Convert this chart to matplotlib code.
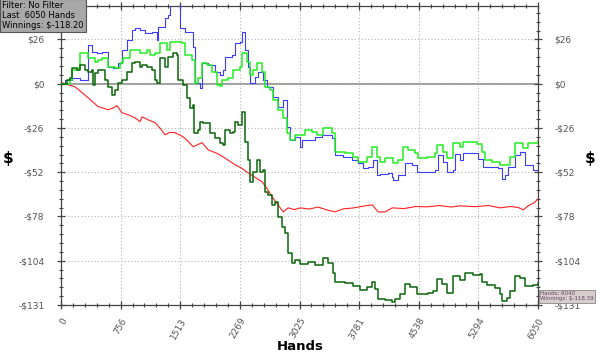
import numpy as np
import matplotlib
matplotlib.use('Agg')
import matplotlib.pyplot as plt
from matplotlib.ticker import AutoMinorLocator

# winnings by hand count
azul_x = [0, 51, 140, 241, 343, 393, 457, 520, 596, 660, 723, 774, 838, 901, 939, 1003, 1066, 1155,
          1218, 1231, 1320, 1358, 1383, 1472, 1510, 1574, 1675, 1700, 1764, 1789, 1865, 1954, 2018,
          2056, 2081, 2170, 2208, 2272, 2297, 2335, 2373, 2398, 2462, 2500, 2563, 2614, 2690, 2754,
          2817, 2868, 2906, 2970, 3033, 3058, 3134, 3223, 3312, 3439, 3477, 3579, 3693, 3769, 3832,
          3896, 3959, 4010, 4048, 4150, 4200, 4213, 4277, 4365, 4454, 4518, 4581, 4746, 4784, 4848,
          4898, 4974, 5000, 5063, 5101, 5254, 5292, 5355, 5419, 5546, 5596, 5634, 5672, 5761, 5825,
          5888, 5990, 6050]
azul_y = [0, 2.4, 3.6, 2.4, 23.1, 19.0, 18.4, 19.0, 10.1, 9.5, 12.4, 20.2, 26.1, 32.0, 33.2, 32.0, 30.2, 30.8,
          26.1, 33.8, 39.1, 40.9, 46.8, 46.8, 33.2, 30.8, 21.9, 0.6, -2.4, 12.4, 11.3, 7.1, 5.3,
          8.3, 16.0, 17.2, 24.3, 24.9, 30.8, 20.2, 10.1, 0.6, 4.2, 7.1, 2.4, -1.8, -7.7, -13.6,
          -9.5, -25.5, -33.2, -31.4, -37.3, -33.2, -33.2, -31.4, -30.2, -32.0, -42.1, -43.3, -45.1, -46.8, -49.8,
          -49.2, -45.1, -53.9, -53.4, -52.8, -55.1, -56.9, -53.9, -46.8, -48.0, -52.2, -52.2, -51.0, -42.1, -46.2,
          -52.2, -51.0, -41.5, -45.1, -40.9, -40.9, -44.5, -49.2, -49.2, -49.8, -56.3, -53.9, -49.2, -42.1, -40.3,
          -48.0, -51.0, -51.6]

verde_x = [0, 114, 140, 216, 241, 343, 431, 470, 520, 596, 685, 749, 787, 876, 1003, 1028, 1091, 1129,
           1193, 1256, 1345, 1383, 1472, 1535, 1574, 1662, 1700, 1739, 1789, 1853, 1916, 1980, 2018,
           2043, 2119, 2183, 2272, 2297, 2360, 2398, 2436, 2487, 2551, 2589, 2652, 2690, 2754, 2817,
           2868, 2906, 2970, 3033, 3096, 3185, 3249, 3325, 3439, 3477, 3604, 3705, 3769, 3883, 3947,
           4010, 4048, 4112, 4213, 4277, 4340, 4403, 4492, 4530, 4645, 4746, 4772, 4848, 4898, 4974,
           5063, 5101, 5190, 5279, 5342, 5381, 5469, 5571, 5634, 5698, 5761, 5825, 5863, 5926, 6050]
verde_y = [0, 2.4, 8.3, 9.5, 18.4, 15.4, 13.0, 14.2, 15.4, 10.1, 9.5, 12.4, 15.4, 20.2, 18.4, 18.4, 20.2, 17.2,
           18.4, 24.3, 20.2, 24.9, 24.9, 24.3, 17.2, 14.2, 0.6, 3.6, 12.4, 11.3, 7.1, -0.6, -1.2,
           2.4, 3.6, 8.3, 10.1, 18.4, 13.0, 5.3, 8.3, 12.4, 7.1, -1.8, -3.6, -9.5, -15.4, -20.2,
           -29.0, -33.2, -30.2, -30.2, -27.3, -28.5, -30.2, -26.1, -29.0, -40.3, -40.9, -43.3, -46.2, -43.3, -37.3,
           -43.3, -46.2, -43.9, -46.8, -45.1, -37.3, -39.1, -40.9, -43.9, -43.3, -40.9, -36.2, -40.3, -43.9, -35.0,
           -37.3, -34.4, -34.4, -35.6, -40.3, -45.1, -46.2, -48.0, -48.0, -43.3, -35.0, -35.0, -37.9, -35.0, -33.8]

oscuro_x = [0, 76, 114, 140, 203, 241, 305, 343, 393, 406, 431, 470, 520, 558, 596, 647, 685, 723, 774,
            838, 901, 939, 1003, 1028, 1091, 1155, 1193, 1218, 1256, 1320, 1358, 1421, 1472, 1485, 1548,
            1599, 1637, 1675, 1688, 1739, 1764, 1802, 1891, 1954, 2018, 2056, 2081, 2145, 2183, 2208,
            2246, 2297, 2335, 2373, 2398, 2436, 2487, 2525, 2563, 2589, 2627, 2678, 2716, 2754, 2804,
            2843, 2881, 2932, 2970, 3033, 3134, 3223, 3325, 3388, 3452, 3477, 3604, 3705, 3794, 3883,
            3947, 3985, 4023, 4112, 4200, 4238, 4302, 4365, 4429, 4518, 4581, 4657, 4721, 4772, 4835,
            4898, 4974, 5063, 5127, 5228, 5317, 5342, 5406, 5507, 5571, 5596, 5660, 5698, 5761, 5825,
            5888, 5990, 6050]
oscuro_y = [0, 2.4, 3.6, 9.5, 8.3, 11.3, 8.3, 7.1, 8.3, -0.6, 6.5, 8.3, 8.0, 2.4, -1.8, -6.5, -3.6, 0.6, 2.4,
            7.1, 12.4, 13.0, 10.1, 11.3, 10.1, 8.3, 2.4, 0.6, 15.4, 10.1, 16.0, 18.4, 17.2, 2.4, -0.6,
            -8.3, -14.2, -12.4, -29.0, -27.3, -22.5, -23.1, -29.0, -32.0, -34.9, -36.2, -27.3, -29.0, -28.5, -22.5,
            -24.3, -16.6, -34.4, -45.1, -58.1, -52.2, -45.1, -52.2, -51.0, -64.0, -65.8, -71.7, -69.9, -78.8, -84.7,
            -88.3, -100.2, -106.1, -104.3, -106.7, -105.5, -107.3, -103.1, -106.1, -111.9, -117.4, -118.0, -119.8, -122.1, -120.4,
            -117.4, -121.5, -127.4, -128.0, -129.2, -127.4, -124.5, -118.6, -120.4, -124.5, -124.5, -123.9, -122.7, -115.6, -118.6,
            -123.9, -113.8, -116.2, -112.1, -113.2, -112.7, -117.4, -119.2, -121.0, -124.5, -128.6, -126.8, -122.7, -113.8, -115.0,
            -119.8, -119.2, -118.2]

rojo_x = [0, 10, 100, 178, 260, 343, 410, 470, 540, 596, 650, 711, 774, 860, 939, 1003, 1028, 1110, 1193,
          1260, 1320, 1380, 1447, 1548, 1610, 1675, 1789, 1865, 1992, 2056, 2130, 2208, 2290, 2373, 2460,
          2551, 2620, 2678, 2750, 2817, 2881, 2960, 3033, 3150, 3260, 3380, 3477, 3579, 3700, 3820,
          3947, 4023, 4112, 4200, 4350, 4500, 4645, 4800, 4950, 5063, 5250, 5420, 5571, 5700, 5800,
          5863, 5926, 6000, 6050]
rojo_y = [0, 0.6, -0.8, -1.8, -5.0, -8.3, -11.0, -13.6, -14.5, -15.4, -14.6, -13.0, -17.2, -18.5, -20.2, -22.5, -19.6, -21.5, -23.1,
          -26.5, -30.2, -28.8, -29.0, -31.4, -34.0, -37.3, -34.9, -39.1, -41.5, -43.3, -45.6, -48.0, -50.0, -52.8, -55.4,
          -58.1, -62.5, -67.0, -71.5, -75.9, -73.5, -74.5, -73.5, -74.2, -73.0, -74.8, -75.9, -74.1, -73.6, -72.6,
          -71.7, -75.9, -75.9, -73.5, -73.9, -72.7, -72.9, -72.1, -73.0, -72.3, -72.8, -72.1, -73.5, -72.7, -73.3,
          -74.7, -72.3, -70.5, -68.2]

x_ticks = [0, 756.25, 1512.5, 2268.75, 3025, 3781.25, 4537.5, 5293.75, 6050]
x_labels = ['0', '756', '1513', '2269', '3025', '3781', '4538', '5294', '6050']
y_ticks = [26.2, 0, -26.2, -52.4, -78.6, -104.8, -131]
y_labels = ['$26', '$0', '-$26', '-$52', '-$78', '-$104', '-$131']

fig = plt.figure(figsize=(6, 3.54), dpi=100)
ax = fig.add_axes([61 / 600, 1 - 305 / 354, 477 / 600, 299 / 354])

ax.axhline(0, color='#8c8c8c', lw=1.2, zorder=1)
ax.plot(rojo_x, rojo_y, color='#ff2020', lw=0.8, zorder=2)
ax.plot(azul_x, azul_y, color='#3c3cff', lw=0.8, drawstyle='steps-post', zorder=3)
ax.plot(verde_x, verde_y, color='#22ee22', lw=1.1, drawstyle='steps-post', zorder=4)
ax.plot(oscuro_x, oscuro_y, color='#0a660a', lw=1.1, drawstyle='steps-post', zorder=5)

ax.set_xlim(0, 6050)
ax.set_ylim(-131, 46)
ax.set_xticks(x_ticks)
ax.set_xticklabels(x_labels, rotation=60, ha='right', va='top', rotation_mode='anchor')
ax.set_yticks(y_ticks)
ax.set_yticklabels(y_labels)
ax.xaxis.set_minor_locator(AutoMinorLocator(5))
ax.yaxis.set_minor_locator(AutoMinorLocator(5))
ax.grid(True, which='major', color='#b4b4b4', ls=(0, (1, 2)), lw=0.8)

ax.tick_params(which='both', direction='inout', color='#444444', labelsize=6.5, labelcolor='#555555',
               left=True, right=True, top=True, bottom=True, labelright=True)
ax.tick_params(which='major', length=6, width=0.9, pad=9)
ax.tick_params(which='minor', length=3.5, width=0.8)
ax.tick_params(axis='x', which='major', pad=5)
for s in ax.spines.values():
    s.set_color('#444444')
    s.set_linewidth(0.9)

fig.text(300 / 600, 1 - 347 / 354, 'Hands', fontsize=9.5, fontweight='bold', ha='center', va='center')
fig.text(8 / 600, 1 - 158 / 354, '$', fontsize=11, fontweight='bold', ha='center', va='center')
fig.text(590 / 600, 1 - 158 / 354, '$', fontsize=11, fontweight='bold', ha='center', va='center')

fig.text(2 / 600, 1 - 1 / 354, 'Filter: No Filter\nLast  6050 Hands\nWinnings: $-118.20',
         fontsize=6, ha='left', va='top', linespacing=1.15,
         bbox=dict(boxstyle='square,pad=0.25', fc='#a8a8a8', ec='#555555', lw=0.8))
fig.text(540 / 600, 1 - 291 / 354, 'Hands: 6040\nWinnings: $-118.39',
         fontsize=4.0, color='#604868', ha='left', va='top', linespacing=1.1,
         bbox=dict(boxstyle='square,pad=0.25', fc='#d8cccc', ec='#888888', lw=0.6))

fig.savefig('out.png', dpi=100)
